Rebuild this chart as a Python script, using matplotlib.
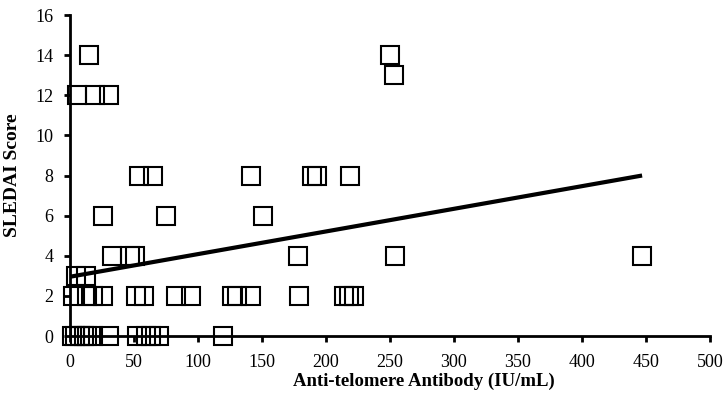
import matplotlib
matplotlib.use("Agg")
import matplotlib.pyplot as plt

# Data (anti-telomere antibody IU/mL vs SLEDAI score)
antibody = [15, 250, 253,
            6, 20, 31,
            54, 65, 142, 189, 193, 219,
            26, 75, 151,
            33, 47, 51, 178, 254, 447,
            5, 13,
            3, 14, 18, 26, 52, 58, 83, 95, 127, 131, 142, 179, 214, 218, 222,
            2, 4, 8, 11, 14, 18, 31, 53, 60, 64, 70, 120]
sledai = [14, 14, 13,
          12, 12, 12,
          8, 8, 8, 8, 8, 8,
          6, 6, 6,
          4, 4, 4, 4, 4, 4,
          3, 3,
          2, 2, 2, 2, 2, 2, 2, 2, 2, 2, 2, 2, 2, 2, 2,
          0, 0, 0, 0, 0, 0, 0, 0, 0, 0, 0, 0]
trend_x = [0, 447]
trend_y = [2.95, 8.0]
x_ticks = [0, 50, 100, 150, 200, 250, 300, 350, 400, 450, 500]
y_ticks = [0, 2, 4, 6, 8, 10, 12, 14, 16]

plt.rcParams['font.family'] = ['Liberation Serif', 'DejaVu Serif']

fig = plt.figure(figsize=(7.27, 4.07), dpi=100)
ax = fig.add_axes([0.0956, 0.1744, 0.881, 0.7887])

ax.plot(antibody, sledai, linestyle='none', marker='s', ms=12.5,
        mfc='none', mec='black', mew=1.5, clip_on=False, zorder=3)
ax.plot(trend_x, trend_y, color='black', lw=3, solid_capstyle='butt', zorder=4)

ax.set_xlim(0, 500)
ax.set_ylim(0, 16)
ax.set_xticks(x_ticks)
ax.set_yticks(y_ticks)
for s in ['top', 'right']:
    ax.spines[s].set_visible(False)
for s in ['left', 'bottom']:
    ax.spines[s].set_linewidth(2)
ax.tick_params(direction='out', length=4.5, width=2, labelsize=13)
ax.tick_params(axis='y', pad=7)
ax.tick_params(axis='x', pad=8.5)

ax.set_xlabel('Anti-telomere Antibody (IU/mL)', fontsize=13.5, fontweight='bold')
ax.set_ylabel('SLEDAI Score', fontsize=14, fontweight='bold')
ax.xaxis.set_label_coords(0.553, -0.1153)
ax.yaxis.set_label_coords(-0.0757, 0.5)

fig.savefig('out.png', dpi=100)
